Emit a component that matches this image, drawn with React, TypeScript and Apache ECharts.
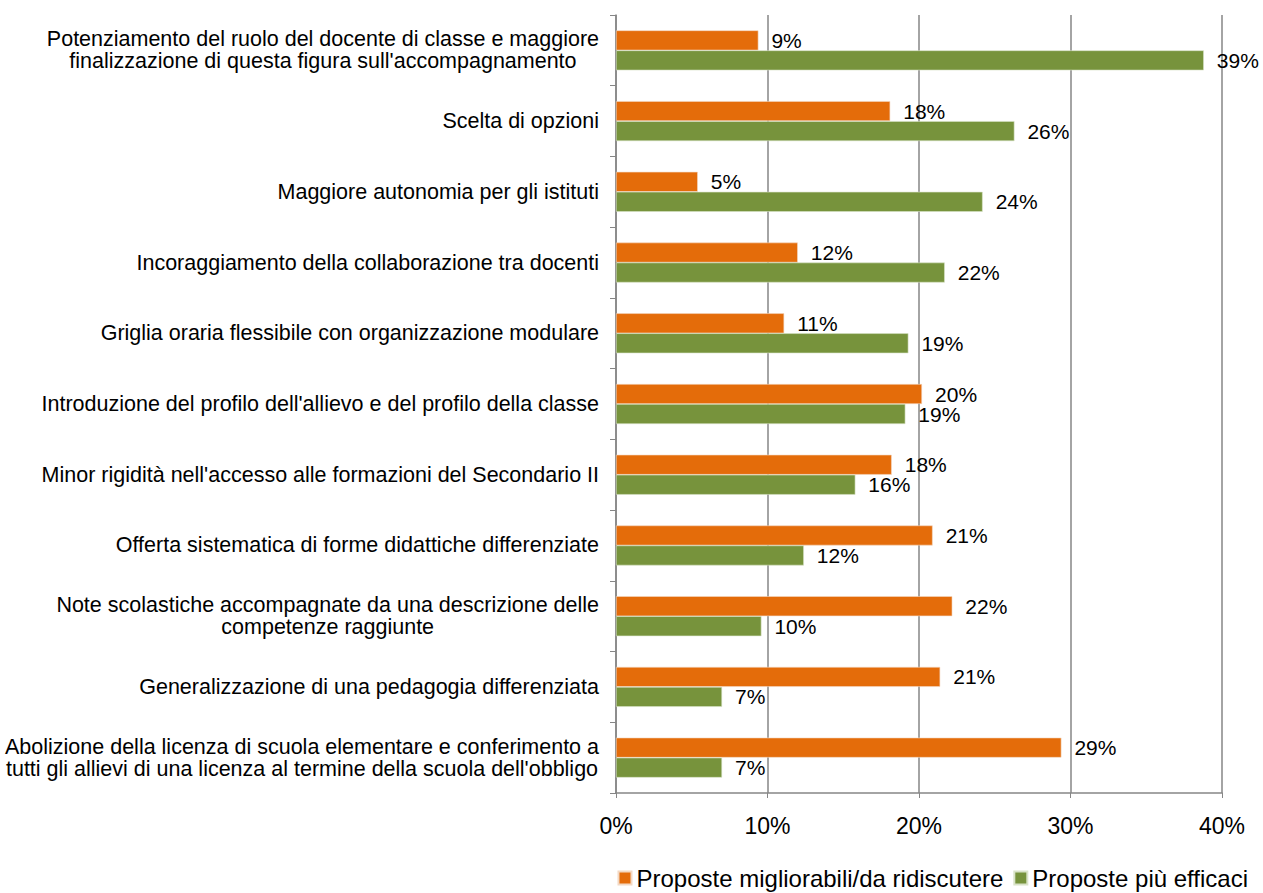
import React, { useEffect, useRef } from "react";
import * as echarts from "echarts";

const categories = [
  "Potenziamento del ruolo del docente di classe e maggiore\nfinalizzazione di questa figura sull'accompagnamento",
  "Scelta di opzioni",
  "Maggiore autonomia per gli istituti",
  "Incoraggiamento della collaborazione tra docenti",
  "Griglia oraria flessibile con organizzazione modulare",
  "Introduzione del profilo dell'allievo e del profilo della classe",
  "Minor rigidità nell'accesso alle formazioni del Secondario II",
  "Offerta sistematica di forme didattiche differenziate",
  "Note scolastiche accompagnate da una descrizione delle\ncompetenze raggiunte",
  "Generalizzazione di una pedagogia differenziata",
  "Abolizione della licenza di scuola elementare e conferimento a\ntutti gli allievi di una licenza al termine della scuola dell'obbligo",
];

const migliorabili = [9.4, 18.1, 5.4, 12.0, 11.1, 20.2, 18.2, 20.9, 22.2, 21.4, 29.4];
const efficaci = [38.8, 26.3, 24.2, 21.7, 19.3, 19.1, 15.8, 12.4, 9.6, 7.0, 7.0];

const seriesNames = ["Proposte migliorabili/da ridiscutere", "Proposte più efficaci"];
const FONT = "Liberation Sans, Arial, sans-serif";

export default function App() {
  const ref = useRef<HTMLDivElement>(null);
  useEffect(() => {
    if (!ref.current) return;
    const chart = echarts.init(ref.current, null, { renderer: "svg" });
    const label = {
      show: true,
      position: "right",
      distance: 13,
      color: "#000",
      fontSize: 21,
      fontFamily: FONT,
      formatter: (p: any) => Math.round(p.value) + "%",
    };
    chart.setOption({
      animation: false,
      textStyle: { fontFamily: FONT },
      grid: { left: 616, right: 41, top: 15, bottom: 100, containLabel: false },
      legend: {
        data: seriesNames,
        right: 10,
        top: 861,
        itemWidth: 13,
        itemHeight: 13,
        itemGap: 10,
        icon: "rect",
        textStyle: { fontSize: 24, color: "#000", fontFamily: FONT, lineHeight: 24 },
      },
      xAxis: {
        type: "value",
        min: 0,
        max: 40,
        interval: 10,
        axisLine: { show: true, lineStyle: { color: "#868686", width: 1.5 } },
        axisTick: { show: true, length: 5, lineStyle: { color: "#868686" } },
        splitLine: { show: true, lineStyle: { color: "#868686", width: 1.5 } },
        axisLabel: { formatter: "{value}%", fontSize: 23, color: "#000", margin: 21, fontFamily: FONT },
      },
      yAxis: {
        type: "category",
        inverse: true,
        data: categories,
        axisLine: { show: true, lineStyle: { color: "#868686", width: 1.5 } },
        axisTick: { show: true, length: 6, lineStyle: { color: "#868686" } },
        axisLabel: {
          fontSize: 21.5,
          color: "#000",
          margin: 17,
          lineHeight: 22,
          align: "right",
          fontFamily: FONT,
          formatter: (v: string) => v.split("\n").map((l) => "{c|" + l + "}").join("\n"),
          rich: {
            c: { align: "center", fontSize: 21.5, lineHeight: 22, color: "#000", fontFamily: FONT },
          },
        },
      },
      series: [
        {
          name: seriesNames[0],
          type: "bar",
          data: migliorabili,
          barWidth: 20,
          barGap: "0%",
          itemStyle: { color: "#E46C0A", borderColor: "#F3D9C4", borderWidth: 0.6 },
          label,
        },
        {
          name: seriesNames[1],
          type: "bar",
          data: efficaci,
          barWidth: 20,
          barGap: "0%",
          itemStyle: { color: "#77933C", borderColor: "#D9E3C8", borderWidth: 0.6 },
          label,
        },
      ],
    });
    return () => chart.dispose();
  }, []);
  return <div ref={ref} style={{ width: 1263, height: 893, position: "absolute", left: 0, top: 0 }} />;
}
